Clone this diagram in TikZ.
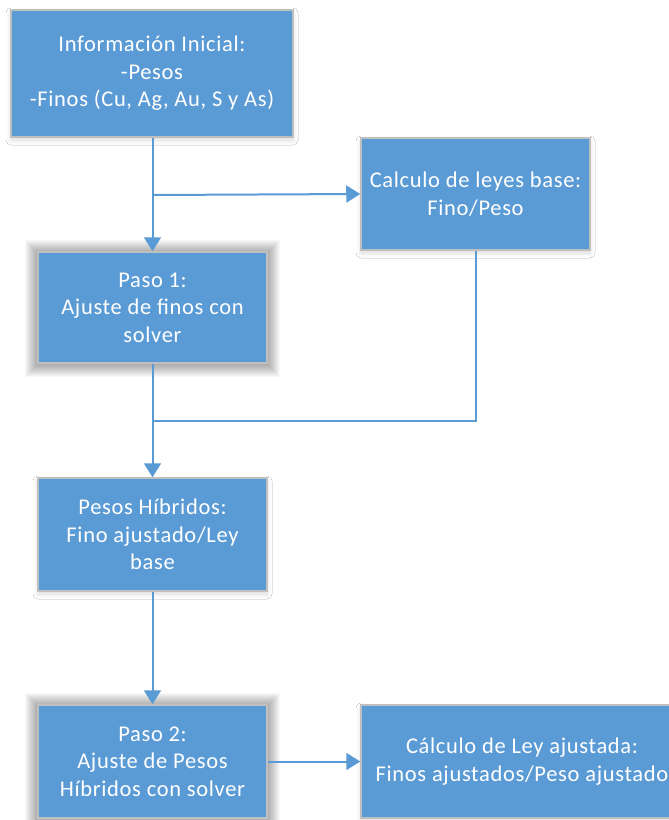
\documentclass[tikz,border=0pt]{standalone}
\usepackage{fontspec}
\setmainfont{Carlito}[LetterSpace=3]
\usetikzlibrary{arrows.meta,shadows.blur,backgrounds}
\definecolor{boxblue}{HTML}{5B9BD5}
\definecolor{boxedge}{HTML}{BFBFBF}
\begin{document}
\begin{tikzpicture}[x=1pt,y=-1pt,
  box/.style={rectangle, fill=boxblue, draw=boxedge, line width=1.5pt,
    text=white, align=center, inner sep=0pt,
    font=\fontsize{22.5}{27.5}\selectfont},
  softshadow/.style={blur shadow={shadow xshift=0pt, shadow yshift=-3pt, shadow blur radius=5pt, shadow opacity=15}},
  glowlayer/.style={fill=black, opacity=0.028},
  conn/.style={draw=boxblue, line width=2pt},
  arr/.style={conn, -{Triangle[width=17pt,length=14pt]}}]
\useasboundingbox (0,0) rectangle (669,820);

\node[box, softshadow, minimum width=282pt, minimum height=127pt] (init) at (152,73.5)
  {Información Inicial:\\-Pesos\\-Finos (Cu, Ag, Au, S y As)};
\node[box, softshadow, minimum width=229pt, minimum height=112pt] (calc) at (475.5,194)
  {Calculo de leyes base:\\Fino/Peso};
\node[box, minimum width=229pt, minimum height=111pt] (p1) at (152.5,307.5)
  {Paso 1:\\Ajuste de finos con\\solver};
\node[box, softshadow, minimum width=229pt, minimum height=113pt] (hib) at (152.5,534.5)
  {Pesos Híbridos:\\Fino ajustado/Ley\\base};
\node[box, minimum width=229pt, minimum height=113pt] (p2) at (152.5,761.5)
  {Paso 2:\\Ajuste de Pesos\\Híbridos con solver};
\node[box, softshadow, minimum width=322pt, minimum height=113pt] (fin) at (522,761.5)
  {Cálculo de Ley ajustada:\\Finos ajustados/Peso ajustado};

\begin{scope}[on background layer]
  \fill[white] (0,0) rectangle (669,820);
  \foreach \n in {p1,p2}{
    \foreach \r in {1,...,12}{
      \fill[glowlayer] ([shift={(-\r,-\r+1)}]\n.north west) rectangle ([shift={(\r,\r+1)}]\n.south east);
    }
  }
\end{scope}

\coordinate (b1) at (152.5,195);
\coordinate (j) at (152.5,421);

\draw[arr] (init.south -| p1.north) -- (p1.north);
\draw[arr] (b1) -- (calc.west);
\draw[conn] (calc.south) |- (j);
\draw[arr] (p1.south) -- (hib.north);
\draw[arr] (hib.south) -- (p2.north);
\draw[arr] (p2.east) -- (fin.west);
\end{tikzpicture}
\end{document}
